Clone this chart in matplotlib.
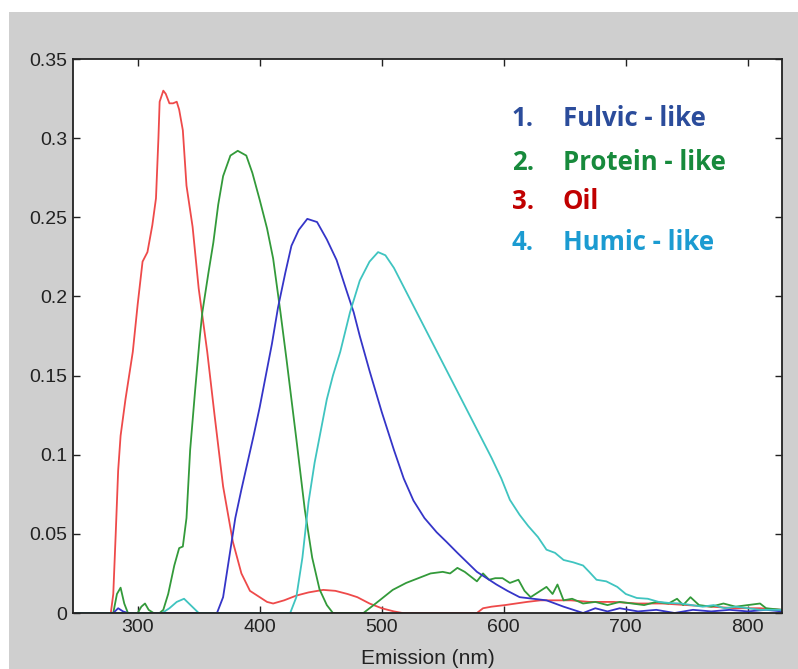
import matplotlib
matplotlib.use("Agg")
import matplotlib.pyplot as plt
from matplotlib.patches import Rectangle

# emission spectra (nm, intensity)
oil_nm = [250, 278, 280, 282, 284, 286, 290, 296, 300, 304, 308, 312, 315, 317, 318, 321, 323,
          326, 329, 332, 334, 337, 340, 345, 350, 357, 363, 370, 378, 385, 392, 400, 406, 411,
          420, 430, 440, 452, 462, 472, 480, 490, 500, 510, 517, 540, 560, 578, 583, 590, 601,
          610, 619, 630, 640, 655, 670, 690, 710, 730, 750, 770, 790, 810, 828]
oil = [0, 0, 0.012, 0.05, 0.09, 0.112, 0.135, 0.165, 0.195, 0.222, 0.228, 0.245, 0.262, 0.30,
       0.323, 0.330, 0.328, 0.322, 0.322, 0.323, 0.318, 0.305, 0.27, 0.244, 0.205, 0.165, 0.125,
       0.08, 0.045, 0.025, 0.014, 0.010, 0.007, 0.006, 0.008, 0.011, 0.013, 0.0146, 0.014, 0.012,
       0.010, 0.006, 0.003, 0.001, 0, 0, 0, 0, 0.003, 0.004, 0.005, 0.006, 0.007, 0.008, 0.008,
       0.008, 0.007, 0.007, 0.006, 0.006, 0.005, 0.004, 0.003, 0.003, 0.002]

protein_nm = [250, 280, 283, 286, 289, 292, 296, 300, 303, 306, 309, 313, 318, 321, 325, 330,
              334, 337, 340, 343, 347, 351, 353, 358, 362, 366, 370, 376, 382, 389, 394, 400,
              406, 411, 417, 422, 430, 437, 443, 449, 455, 460, 466, 475, 485, 495, 509, 520,
              530, 540, 550, 556, 562, 568, 573, 578, 583, 588, 593, 599, 605, 612, 617, 622,
              628, 635, 640, 644, 649, 656, 665, 675, 685, 695, 705, 715, 725, 735, 742, 747,
              753, 760, 770, 780, 790, 800, 810, 815, 828]
protein = [0, 0, 0.012, 0.016, 0.006, 0.0, 0.0, 0.0, 0.004, 0.006, 0.002, 0.0, 0.0, 0.002,
           0.012, 0.03, 0.041, 0.042, 0.06, 0.103, 0.14, 0.175, 0.19, 0.215, 0.234, 0.258,
           0.276, 0.289, 0.292, 0.289, 0.278, 0.261, 0.243, 0.224, 0.19, 0.16, 0.11, 0.065,
           0.035, 0.015, 0.005, 0.0, 0.0, 0.0, 0.0, 0.006, 0.0146, 0.019, 0.022, 0.025, 0.026,
           0.025, 0.0285, 0.026, 0.023, 0.020, 0.025, 0.021, 0.022, 0.022, 0.019, 0.021,
           0.014, 0.010, 0.013, 0.0165, 0.012, 0.018, 0.008, 0.009, 0.006, 0.007, 0.005,
           0.007, 0.006, 0.005, 0.007, 0.006, 0.009, 0.005, 0.010, 0.005, 0.004, 0.006,
           0.004, 0.005, 0.006, 0.003, 0.002]

fulvic_nm = [250, 280, 284, 288, 292, 360, 365, 370, 375, 380, 385, 390, 395, 400, 405, 410,
             415, 421, 426, 432, 439, 447, 455, 463, 471, 477, 482, 490, 500, 510, 518, 526,
             535, 545, 553, 562, 570, 578, 586, 594, 603, 613, 624, 635, 642, 649, 657, 665,
             675, 685, 695, 710, 725, 740, 755, 770, 785, 800, 815, 828]
fulvic = [0, 0, 0.003, 0.001, 0, 0, 0.0, 0.01, 0.035, 0.06, 0.078, 0.095, 0.112, 0.13, 0.15,
          0.17, 0.193, 0.215, 0.232, 0.242, 0.249, 0.247, 0.236, 0.223, 0.204, 0.190, 0.175,
          0.153, 0.127, 0.103, 0.085, 0.071, 0.060, 0.051, 0.045, 0.038, 0.032, 0.026, 0.022,
          0.018, 0.014, 0.010, 0.009, 0.008, 0.006, 0.004, 0.002, 0.0, 0.003, 0.001, 0.003,
          0.001, 0.002, 0.0, 0.002, 0.001, 0.002, 0.001, 0.002, 0.001]

humic_nm = [250, 320, 326, 332, 338, 342, 346, 350, 420, 425, 430, 435, 440, 445, 450, 455,
            460, 466, 474, 482, 490, 497, 503, 510, 520, 530, 540, 550, 560, 570, 580, 590,
            598, 605, 613, 620, 628, 635, 642, 649, 657, 665, 670, 676, 684, 693, 700, 709,
            718, 727, 736, 745, 754, 763, 772, 781, 790, 800, 810, 818, 828]
humic = [0, 0, 0.003, 0.007, 0.009, 0.006, 0.003, 0, 0, 0.0, 0.01, 0.035, 0.07, 0.095, 0.115,
         0.135, 0.15, 0.165, 0.19, 0.21, 0.222, 0.228, 0.226, 0.218, 0.203, 0.188, 0.173,
         0.158, 0.143, 0.128, 0.113, 0.098, 0.085, 0.0715, 0.062, 0.055, 0.048, 0.040, 0.038,
         0.0335, 0.032, 0.030, 0.026, 0.021, 0.020, 0.0165, 0.012, 0.0095, 0.009, 0.007,
         0.0063, 0.006, 0.005, 0.004, 0.005, 0.003, 0.004, 0.003, 0.002, 0.002, 0.002]

labels = ["Fulvic - like", "Protein - like", "Oil", "Humic - like"]
label_colors = ["#2b4c9b", "#178a3c", "#c00000", "#1b9bd1"]

fig = plt.figure(figsize=(7.98, 6.69), dpi=100, facecolor="white")
# grey MATLAB-style window background
fig.add_artist(Rectangle((9 / 798, 0), 1, 1 - 12 / 669, transform=fig.transFigure,
                         facecolor="#cfcfcf", edgecolor="none", zorder=-10))

ax = fig.add_axes([73 / 798, 56 / 669, 709 / 798, 554 / 669])
ax.set_zorder(1)
ax.set_facecolor("white")

ax.plot(oil_nm, oil, color="#ee4a4a", lw=1.3)
ax.plot(protein_nm, protein, color="#339a3a", lw=1.3)
ax.plot(fulvic_nm, fulvic, color="#3535c8", lw=1.3)
ax.plot(humic_nm, humic, color="#3fc4c0", lw=1.3)

ax.set_xlim(247, 828)
ax.set_ylim(0, 0.35)
ax.set_xticks([300, 400, 500, 600, 700, 800])
ax.set_yticks([0, 0.05, 0.1, 0.15, 0.2, 0.25, 0.3, 0.35])
ax.set_yticklabels(["0", "0.05", "0.1", "0.15", "0.2", "0.25", "0.3", "0.35"])
ax.tick_params(direction="in", top=True, right=True, length=5, width=1,
               labelsize=14, colors="#222222", pad=4)
for lab in ax.get_xticklabels() + ax.get_yticklabels():
    lab.set_fontfamily("Liberation Sans")
for s in ax.spines.values():
    s.set_linewidth(1.3)
    s.set_color("#222222")

ax.set_xlabel("Emission (nm)", fontsize=15, family="Liberation Sans", color="#222222",
              labelpad=10)

ys = [0.893, 0.814, 0.742, 0.668]
for i, (lab, c) in enumerate(zip(labels, label_colors)):
    ax.text(0.619, ys[i], f"{i + 1}.", transform=ax.transAxes, color=c, fontsize=18.5,
            fontweight="bold", family="Open Sans", va="center", ha="left")
    ax.text(0.691, ys[i], lab, transform=ax.transAxes, color=c, fontsize=18.5,
            fontweight="bold", family="Open Sans", va="center", ha="left")

fig.savefig("out.png", dpi=100, facecolor="white")
